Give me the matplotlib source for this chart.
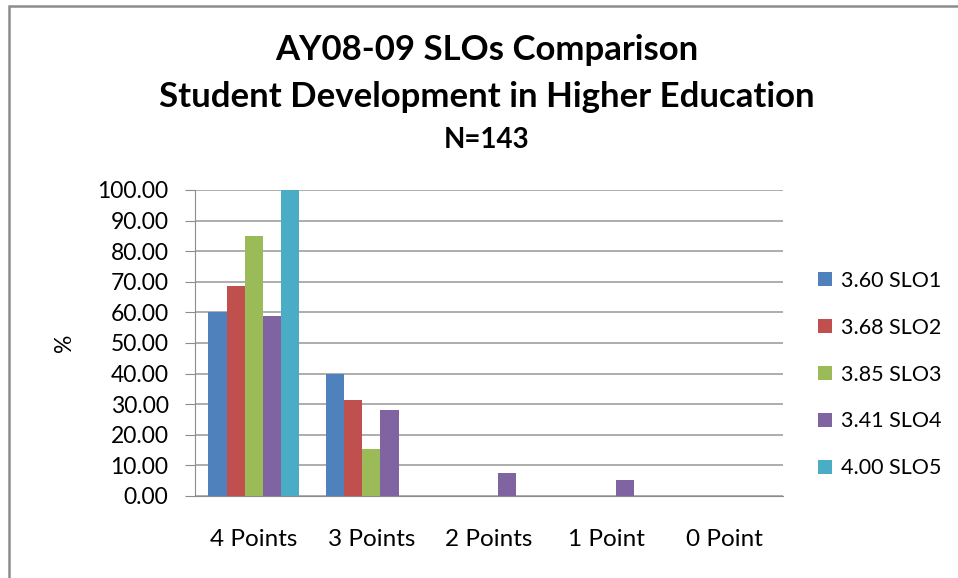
import matplotlib
matplotlib.use("Agg")
import matplotlib.pyplot as plt
import numpy as np

plt.rcParams['font.family'] = ['Lato', 'DejaVu Sans']

categories = ['4 Points', '3 Points', '2 Points', '1 Point', '0 Point']
series_names = ['3.60 SLO1', '3.68 SLO2', '3.85 SLO3', '3.41 SLO4', '4.00 SLO5']
slo1 = [60.0, 40.0, 0, 0, 0]
slo2 = [68.5, 31.5, 0, 0, 0]
slo3 = [84.8, 15.2, 0, 0, 0]
slo4 = [58.9, 28.2, 7.6, 5.2, 0]
slo5 = [100.0, 0, 0, 0, 0]
colors = ['#4F81BD', '#C0504D', '#9BBB59', '#8064A2', '#4BACC6']

fig = plt.figure(figsize=(9.58, 5.78), dpi=100)
ax = fig.add_axes([0.2035, 0.1419, 0.6138, 0.5294])

# outer chart frame
fig.patches.append(plt.Rectangle((0.0094, -0.05), 1.1, 1.039, transform=fig.transFigure,
                                 fill=False, edgecolor='#8c8c8c', linewidth=1.8))

x = np.arange(len(categories))
bw = 0.154
for i, (vals, name) in enumerate(zip([slo1, slo2, slo3, slo4, slo5], series_names)):
    ax.bar(x + (i - 2) * bw, vals, bw, color=colors[i], label=name, zorder=3)

ax.set_xlim(-0.5, 4.5)
ax.set_ylim(0, 100)
ax.set_yticks(np.arange(0, 101, 10))
ax.set_yticklabels(['%.2f' % v for v in np.arange(0, 101, 10)], fontsize=16.5)
ax.set_xticks(x)
ax.set_xticklabels(categories, fontsize=17.5)
ax.tick_params(axis='x', length=0, pad=24)
ax.tick_params(axis='y', length=7, color='#8c8c8c', pad=12)
ax.grid(axis='y', color='#a0a0a0', linewidth=1.2, zorder=0)
for s in ['top', 'right']:
    ax.spines[s].set_visible(False)
ax.spines['left'].set_color('#8c8c8c')
ax.spines['bottom'].set_color('#8c8c8c')
ax.set_ylabel('%', fontsize=16.5)
ax.yaxis.set_label_coords(-0.204, 0.5)

fig.text(0.508, 0.913, 'AY08-09 SLOs Comparison', ha='center', va='center',
         fontsize=25, fontweight='bold')
fig.text(0.508, 0.832, 'Student Development in Higher Education', ha='center', va='center',
         fontsize=25, fontweight='bold')
fig.text(0.508, 0.757, 'N=143', ha='center', va='center', fontsize=20, fontweight='bold')

fig.legend(loc='center left', bbox_to_anchor=(0.834, 0.352), frameon=False, fontsize=15.5,
           handlelength=0.65, handleheight=0.65, handletextpad=0.4, labelspacing=1.25)

fig.savefig('out.png', dpi=100)
